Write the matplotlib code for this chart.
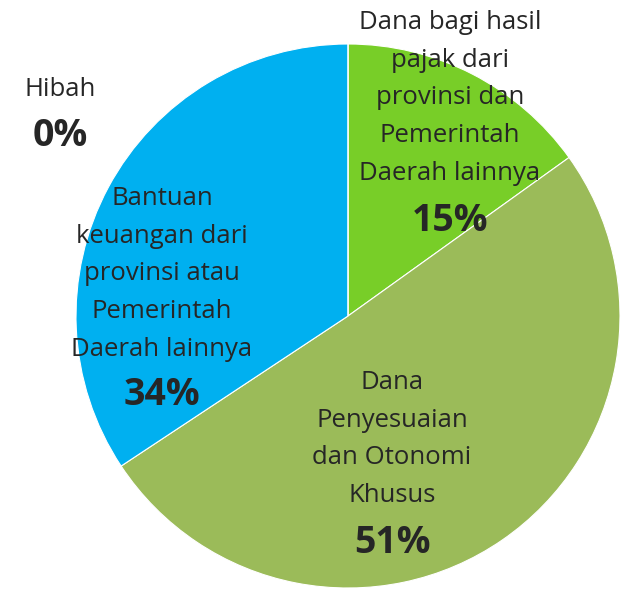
import matplotlib
matplotlib.use("Agg")
import matplotlib.pyplot as plt

categories = ["Dana bagi hasil\npajak dari\nprovinsi dan\nPemerintah\nDaerah lainnya",
              "Dana\nPenyesuaian\ndan Otonomi\nKhusus",
              "Bantuan\nkeuangan dari\nprovinsi atau\nPemerintah\nDaerah lainnya",
              "Hibah"]
values = [15.1, 50.6, 34.3, 0.0]
pct_labels = ["15%", "51%", "34%", "0%"]
colors = ["#78CE28", "#9BBB59", "#00B0F0", "#FFFFFF"]

# label anchor positions (pixels in 625x589 image): name top-line center, percent center
name_pos = [(450, 21), (392, 381), (162, 197), (60, 88)]
pct_pos = [(450, 218), (392, 540), (162, 392), (60, 133)]

W, H = 625, 589
fig = plt.figure(figsize=(W / 100, H / 100), dpi=100)
cx, cy, r = 348, 316, 272
ax = fig.add_axes([(cx - r) / W, (H - cy - r) / H, 2 * r / W, 2 * r / H])
ax.pie(values, colors=colors, startangle=90, counterclock=False, radius=1,
       wedgeprops=dict(edgecolor="white", linewidth=0.8))
ax.set_xlim(-1, 1)
ax.set_ylim(-1, 1)
ax.set_aspect("equal")
ax.axis("off")

font = ["Open Sans", "DejaVu Sans"]
tc = "#262626"
for name, pct, (nx, ny), (px, py) in zip(categories, pct_labels, name_pos, pct_pos):
    fig.text(nx / W, 1 - (ny - 11) / H, name, ha="center", va="top",
             fontsize=18.5, family=font, color=tc, linespacing=1.67)
    fig.text(px / W, 1 - (py + 3) / H, pct, ha="center", va="center",
             fontsize=27, family=font, fontweight="bold", color=tc)

fig.savefig("out.png", dpi=100)
